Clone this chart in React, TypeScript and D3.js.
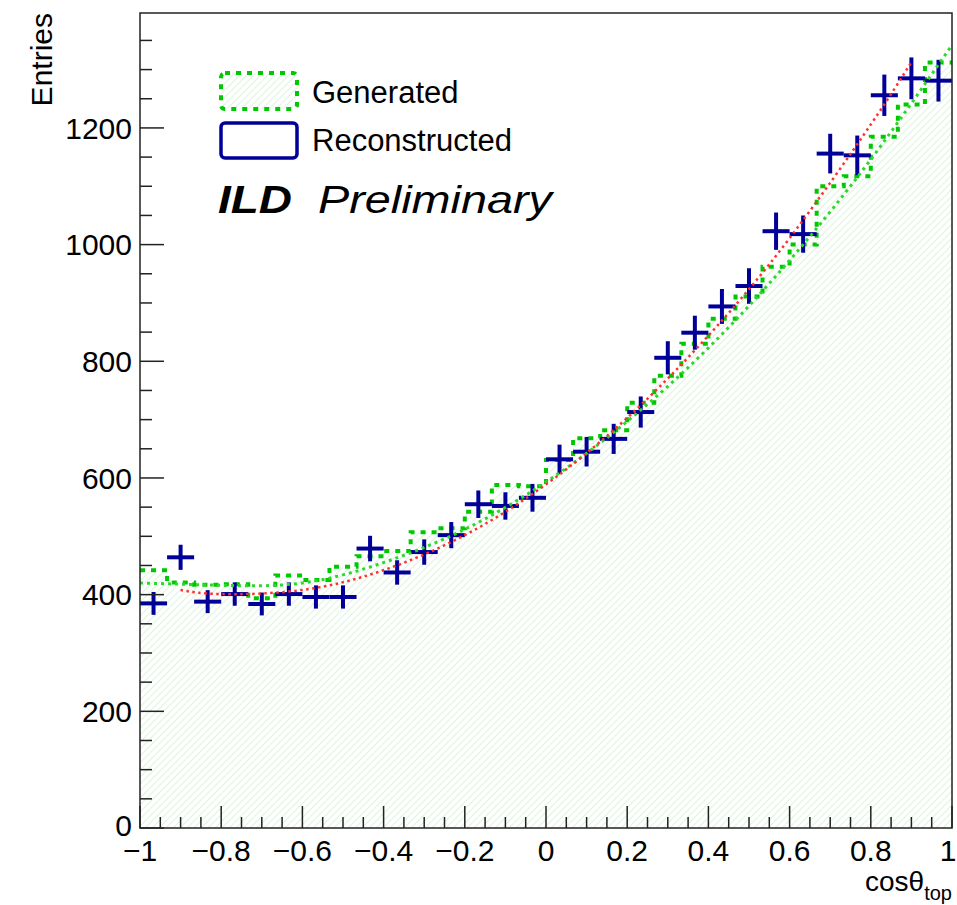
import { useEffect, useRef } from 'react'
import * as d3 from 'd3'

// histogram binning
const X_MIN = -1
const X_MAX = 1
const N_BINS = 30

// entries per bin
const GENERATED = [442, 421, 417, 418, 394, 433, 425, 448, 466, 475, 507, 514, 542, 588, 586,
  631, 668, 682, 729, 775, 830, 873, 911, 962, 1000, 1100, 1117, 1185, 1240, 1312]
const RECONSTRUCTED = [385, 464, 388, 401, 384, 401, 396, 396, 479, 438, 473, 502, 555, 552, 566,
  632, 645, 667, 713, 806, 849, 894, 929, 1023, 1018, 1156, 1153, 1256, 1285, 1281]

// fit curves
const GEN_FIT_X = [-1, -0.8, -0.6, -0.4, -0.2, 0, 0.2, 0.4, 0.6, 0.8, 1]
const GEN_FIT_Y = [420, 416, 420, 455, 512, 593, 697, 823, 973, 1146, 1342]
const RECO_FIT_X = [-0.9, -0.8, -0.6, -0.4, -0.2, 0, 0.2, 0.4, 0.6, 0.8, 0.9]
const RECO_FIT_Y = [408, 401, 408, 442, 502, 589, 703, 844, 1011, 1206, 1313]

// axes
const X_TICKS = [-1, -0.8, -0.6, -0.4, -0.2, 0, 0.2, 0.4, 0.6, 0.8, 1]
const X_TICK_LABELS = ['−1', '−0.8', '−0.6', '−0.4', '−0.2', '0', '0.2', '0.4', '0.6', '0.8', '1']
const Y_TICKS = [0, 200, 400, 600, 800, 1000, 1200]
const Y_TICK_LABELS = ['0', '200', '400', '600', '800', '1000', '1200']
const Y_MAX = 1397

const FONT = '"Liberation Sans", Arial, Helvetica, sans-serif'
const FRAME = { left: 140, right: 952, top: 13, bottom: 828 }
const GREEN = '#00c800'
const GREEN_FIT = '#2bd82b'
const RED = '#ff3030'
const BLUE = '#000099'

export default function App() {
  const svgRef = useRef<SVGSVGElement>(null)

  useEffect(() => {
    if (!svgRef.current) return
    const svg = d3.select(svgRef.current)
    svg.selectAll('*').remove()

    const x = d3.scaleLinear().domain([X_MIN, X_MAX]).range([FRAME.left, FRAME.right])
    const y = d3.scaleLinear().domain([0, Y_MAX]).range([FRAME.bottom, FRAME.top])
    const binW = (X_MAX - X_MIN) / N_BINS
    const edges = d3.range(N_BINS + 1).map((i) => X_MIN + i * binW)

    // ── hatch pattern + clip ─────────────────────────────────────────────
    const defs = svg.append('defs')
    const pat = defs.append('pattern')
      .attr('id', 'hatch').attr('patternUnits', 'userSpaceOnUse')
      .attr('width', 7).attr('height', 7)
    pat.append('path')
      .attr('d', 'M0,7 L7,0 M-1,1 L1,-1 M6,8 L8,6')
      .attr('stroke', '#e0f3e0').attr('stroke-width', 1.2)
    defs.append('clipPath').attr('id', 'frame-clip')
      .append('rect')
      .attr('x', FRAME.left).attr('y', FRAME.top)
      .attr('width', FRAME.right - FRAME.left).attr('height', FRAME.bottom - FRAME.top)

    const plot = svg.append('g').attr('clip-path', 'url(#frame-clip)')

    // ── generated histogram (hatched + dotted outline) ───────────────────
    const stepPts: [number, number][] = edges.map((e, i) => [e, GENERATED[Math.min(i, N_BINS - 1)]])
    plot.append('path')
      .attr('d', d3.area<[number, number]>()
        .x((d) => x(d[0])).y0(y(0)).y1((d) => y(d[1]))
        .curve(d3.curveStepAfter)(stepPts))
      .attr('fill', 'url(#hatch)')
    plot.append('path')
      .attr('d', d3.line<[number, number]>()
        .x((d) => x(d[0])).y((d) => y(d[1]))
        .curve(d3.curveStepAfter)(stepPts))
      .attr('fill', 'none').attr('stroke', GREEN)
      .attr('stroke-width', 4).attr('stroke-dasharray', '5 6')

    // ── reconstructed (error crosses) ────────────────────────────────────
    const crosses = plot.append('g').attr('stroke', BLUE).attr('stroke-width', 4)
    RECONSTRUCTED.forEach((v, i) => {
      const c = x(edges[i] + binW / 2)
      const err = Math.sqrt(v)
      crosses.append('line')
        .attr('x1', x(edges[i])).attr('x2', x(edges[i + 1]))
        .attr('y1', y(v)).attr('y2', y(v))
      crosses.append('line')
        .attr('x1', c).attr('x2', c)
        .attr('y1', y(v - err)).attr('y2', y(v + err))
    })

    // ── fits ─────────────────────────────────────────────────────────────
    const fitLine = d3.line<number>()
      .curve(d3.curveNatural)
    plot.append('path')
      .attr('d', fitLine.x((_, i) => x(GEN_FIT_X[i])).y((d) => y(d))(GEN_FIT_Y))
      .attr('fill', 'none').attr('stroke', GREEN_FIT)
      .attr('stroke-width', 3).attr('stroke-dasharray', '3 4')
    plot.append('path')
      .attr('d', fitLine.x((_, i) => x(RECO_FIT_X[i])).y((d) => y(d))(RECO_FIT_Y))
      .attr('fill', 'none').attr('stroke', RED)
      .attr('stroke-width', 2.5).attr('stroke-dasharray', '2.5 3.5')

    // ── frame ────────────────────────────────────────────────────────────
    svg.append('rect')
      .attr('x', FRAME.left).attr('y', FRAME.top)
      .attr('width', FRAME.right - FRAME.left).attr('height', FRAME.bottom - FRAME.top)
      .attr('fill', 'none').attr('stroke', '#222').attr('stroke-width', 1.5)

    // ── ticks ────────────────────────────────────────────────────────────
    const axes = svg.append('g').attr('stroke', '#222').attr('stroke-width', 1.5)
    d3.range(0, 41).map((i) => X_MIN + i * 0.05).forEach((t, i) => {
      const major = i % 4 === 0
      axes.append('line')
        .attr('x1', x(t)).attr('x2', x(t))
        .attr('y1', FRAME.bottom).attr('y2', FRAME.bottom - (major ? 22 : 11))
    })
    d3.range(0, Y_MAX, 50).forEach((t) => {
      const major = t % 200 === 0
      axes.append('line')
        .attr('x1', FRAME.left).attr('x2', FRAME.left + (major ? 24 : 12))
        .attr('y1', y(t)).attr('y2', y(t))
    })

    const labels = svg.append('g').attr('font-family', FONT).attr('fill', '#000')
    X_TICKS.forEach((t, i) => {
      // last label pulled in a little so it stays on the canvas
      const shift = i === X_TICKS.length - 1 ? -4 : 0
      labels.append('text')
        .attr('x', x(t) + shift).attr('y', 861)
        .attr('text-anchor', 'middle').attr('font-size', 30)
        .text(X_TICK_LABELS[i])
    })
    Y_TICKS.forEach((t, i) => {
      labels.append('text')
        .attr('x', 132).attr('y', y(t) - (t === 0 ? 3 : 0)).attr('dy', '0.36em')
        .attr('text-anchor', 'end').attr('font-size', 30)
        .text(Y_TICK_LABELS[i])
    })

    // axis titles
    labels.append('text')
      .attr('transform', `translate(52,${FRAME.top}) rotate(-90)`)
      .attr('text-anchor', 'end').attr('font-size', 30)
      .text('Entries')
    const xt = labels.append('text')
      .attr('x', FRAME.right).attr('y', 891)
      .attr('text-anchor', 'end').attr('font-size', 28)
    xt.append('tspan').text('cosθ')
    xt.append('tspan').attr('font-size', 20).attr('dy', 9).text('top')

    // ── legend ───────────────────────────────────────────────────────────
    const lg = svg.append('g')
    lg.append('rect')
      .attr('x', 221).attr('y', 73).attr('width', 76).attr('height', 36).attr('rx', 4)
      .attr('fill', 'url(#hatch)').attr('stroke', GREEN)
      .attr('stroke-width', 4).attr('stroke-dasharray', '5 6')
    lg.append('rect')
      .attr('x', 221).attr('y', 123).attr('width', 76).attr('height', 35).attr('rx', 4)
      .attr('fill', 'white').attr('stroke', BLUE).attr('stroke-width', 3.5)
    lg.append('text')
      .attr('x', 312).attr('y', 103).attr('font-family', FONT).attr('font-size', 31)
      .text('Generated')
    lg.append('text')
      .attr('x', 312).attr('y', 151).attr('font-family', FONT).attr('font-size', 31)
      .text('Reconstructed')

    // ILD label
    lg.append('text')
      .attr('x', 218).attr('y', 213).attr('font-family', FONT).attr('font-size', 38)
      .attr('font-weight', 'bold').attr('font-style', 'italic')
      .attr('textLength', 74).attr('lengthAdjust', 'spacingAndGlyphs')
      .text('ILD')
    lg.append('text')
      .attr('x', 318).attr('y', 213).attr('font-family', FONT).attr('font-size', 38)
      .attr('font-style', 'italic')
      .attr('textLength', 234).attr('lengthAdjust', 'spacingAndGlyphs')
      .text('Preliminary')
  }, [])

  return (
    <svg
      ref={svgRef}
      width={957}
      height={905}
      style={{ position: 'absolute', left: 0, top: 0, display: 'block', background: 'white' }}
    />
  )
}
